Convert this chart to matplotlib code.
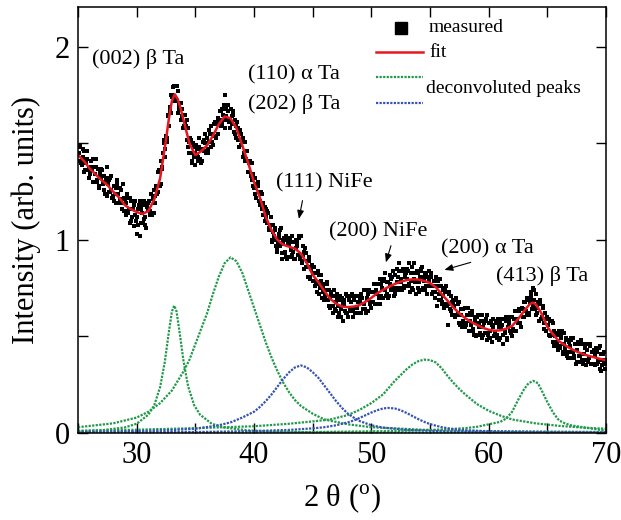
import numpy as np
import matplotlib
matplotlib.use("Agg")
import matplotlib.pyplot as plt

plt.rcParams['font.family'] = ['Liberation Serif', 'DejaVu Serif']
plt.rcParams['mathtext.fontset'] = 'custom'
plt.rcParams['mathtext.rm'] = 'Liberation Serif'

# measured XRD pattern, read at 0.1 deg steps from 25.0 to 70.0 (one row per degree)
measured_2theta = np.round(np.arange(250, 701) / 10.0, 1)
measured_int = [
    1.48, 1.41, 1.49, 1.39, 1.43, 1.46, 1.36, 1.41, 1.46, 1.37,
    1.34, 1.41, 1.37, 1.30, 1.38, 1.42, 1.31, 1.37, 1.28, 1.34,
    1.37, 1.30, 1.33, 1.24, 1.31, 1.38, 1.25, 1.32, 1.26, 1.22,
    1.23, 1.28, 1.19, 1.31, 1.24, 1.19, 1.27, 1.19, 1.29, 1.15,
    1.21, 1.13, 1.24, 1.15, 1.09, 1.20, 1.12, 1.16, 1.07, 1.20,
    1.12, 1.08, 1.18, 1.02, 1.16, 1.09, 1.20, 1.12, 1.06, 1.18,
    1.19, 1.13, 1.24, 1.13, 1.21, 1.26, 1.19, 1.28, 1.25, 1.36,
    1.28, 1.41, 1.37, 1.50, 1.43, 1.54, 1.51, 1.65, 1.67, 1.66,
    1.75, 1.79, 1.72, 1.80, 1.72, 1.77, 1.68, 1.71, 1.62, 1.68,
    1.58, 1.65, 1.59, 1.52, 1.58, 1.45, 1.52, 1.41, 1.50, 1.43,
    1.39, 1.47, 1.43, 1.53, 1.42, 1.47, 1.41, 1.52, 1.50, 1.45,
    1.53, 1.47, 1.57, 1.48, 1.55, 1.49, 1.60, 1.54, 1.61, 1.55,
    1.62, 1.67, 1.59, 1.68, 1.645, 1.75, 1.68, 1.62, 1.70, 1.61,
    1.68, 1.60, 1.65, 1.56, 1.62, 1.53, 1.58, 1.52, 1.57, 1.49,
    1.52, 1.43, 1.51, 1.42, 1.46, 1.35, 1.41, 1.41, 1.31, 1.34,
    1.27, 1.32, 1.22, 1.28, 1.25, 1.18, 1.25, 1.16, 1.19, 1.10,
    1.16, 1.09, 1.14, 1.05, 1.08, 1.00, 1.08, 1.02, 1.05, 0.97,
    0.94, 1.03, 0.97, 1.06, 0.90, 1.00, 0.93, 1.02, 0.90, 0.98,
    1.00, 0.91, 1.02, 0.94, 0.99, 0.90, 1.00, 0.97, 1.02, 0.91,
    1.02, 0.89, 0.97, 0.85, 0.93, 0.89, 0.81, 0.89, 0.80, 0.85,
    0.79, 0.86, 0.76, 0.83, 0.73, 0.82, 0.75, 0.82, 0.70, 0.76,
    0.77, 0.69, 0.77, 0.69, 0.74, 0.65, 0.71, 0.66, 0.74, 0.64,
    0.63, 0.70, 0.60, 0.71, 0.64, 0.70, 0.58, 0.67, 0.62, 0.71,
    0.60, 0.69, 0.63, 0.71, 0.60, 0.69, 0.62, 0.71, 0.65, 0.68,
    0.70, 0.62, 0.70, 0.64, 0.74, 0.64, 0.70, 0.63, 0.74, 0.68,
    0.73, 0.68, 0.77, 0.67, 0.74, 0.67, 0.77, 0.80, 0.71, 0.79,
    0.70, 0.80, 0.83, 0.72, 0.78, 0.71, 0.82, 0.74, 0.81, 0.71,
    0.82, 0.75, 0.85, 0.74, 0.88, 0.80, 0.74, 0.85, 0.76, 0.83,
    0.85, 0.76, 0.88, 0.73, 0.83, 0.75, 0.88, 0.78, 0.72, 0.84,
    0.83, 0.73, 0.84, 0.86, 0.75, 0.81, 0.74, 0.82, 0.76, 0.84,
    0.76, 0.81, 0.72, 0.79, 0.73, 0.81, 0.66, 0.76, 0.69, 0.76,
    0.68, 0.74, 0.65, 0.75, 0.67, 0.56, 0.72, 0.64, 0.71, 0.61,
    0.68, 0.60, 0.70, 0.61, 0.67, 0.57, 0.64, 0.55, 0.64, 0.57,
    0.65, 0.56, 0.61, 0.53, 0.62, 0.56, 0.63, 0.53, 0.58, 0.50,
    0.60, 0.51, 0.57, 0.52, 0.61, 0.51, 0.57, 0.52, 0.59, 0.48,
    0.57, 0.49, 0.58, 0.47, 0.55, 0.50, 0.57, 0.51, 0.59, 0.48,
    0.49, 0.56, 0.46, 0.59, 0.52, 0.58, 0.49, 0.57, 0.60, 0.52,
    0.60, 0.53, 0.59, 0.53, 0.63, 0.57, 0.64, 0.57, 0.64, 0.60,
    0.60, 0.68, 0.63, 0.70, 0.62, 0.70, 0.73, 0.64, 0.75, 0.69,
    0.72, 0.62, 0.68, 0.58, 0.67, 0.59, 0.66, 0.57, 0.62, 0.53,
    0.59, 0.51, 0.58, 0.51, 0.58, 0.47, 0.53, 0.45, 0.51, 0.45,
    0.53, 0.44, 0.51, 0.42, 0.52, 0.44, 0.48, 0.40, 0.48, 0.42,
    0.48, 0.39, 0.49, 0.40, 0.46, 0.37, 0.47, 0.40, 0.46, 0.37,
    0.46, 0.38, 0.45, 0.35, 0.43, 0.38, 0.46, 0.36, 0.42, 0.36,
    0.43, 0.35, 0.42, 0.37, 0.44, 0.33, 0.41, 0.35, 0.42, 0.36,
    0.38,
]

# the in-between measured points, 25.05 to 69.95
measured_2theta_mid = np.round(np.arange(250, 700) / 10.0 + 0.05, 2)
measured_int_mid = [
    1.45, 1.48, 1.40, 1.41, 1.47, 1.35, 1.40, 1.42, 1.36, 1.32,
    1.35, 1.38, 1.42, 1.30, 1.34, 1.38, 1.30, 1.27, 1.35, 1.32,
    1.36, 1.29, 1.26, 1.32, 1.23, 1.29, 1.31, 1.25, 1.33, 1.22,
    1.20, 1.24, 1.27, 1.29, 1.19, 1.21, 1.26, 1.16, 1.21, 1.22,
    1.19, 1.22, 1.14, 1.16, 1.22, 1.10, 1.16, 1.18, 1.13, 1.10,
    1.03, 1.16, 1.20, 1.09, 1.14, 1.18, 1.11, 1.08, 1.17, 1.16,
    1.20, 1.15, 1.14, 1.22, 1.14, 1.23, 1.28, 1.24, 1.35, 1.28,
    1.29, 1.38, 1.45, 1.52, 1.47, 1.53, 1.64, 1.59, 1.69, 1.75,
    1.74, 1.80, 1.72, 1.73, 1.80, 1.66, 1.70, 1.71, 1.64, 1.58,
    1.59, 1.60, 1.62, 1.48, 1.51, 1.53, 1.45, 1.40, 1.48, 1.45,
    1.49, 1.44, 1.41, 1.48, 1.40, 1.47, 1.51, 1.46, 1.55, 1.46,
    1.45, 1.51, 1.55, 1.59, 1.51, 1.54, 1.61, 1.53, 1.60, 1.63,
    1.62, 1.67, 1.60, 1.62, 1.70, 1.58, 1.64, 1.67, 1.62, 1.58,
    1.61, 1.64, 1.67, 1.55, 1.59, 1.61, 1.52, 1.48, 1.55, 1.51,
    1.53, 1.45, 1.41, 1.46, 1.35, 1.40, 1.41, 1.33, 1.40, 1.28,
    1.24, 1.28, 1.29, 1.30, 1.20, 1.20, 1.24, 1.13, 1.17, 1.17,
    1.12, 1.15, 1.06, 1.06, 1.12, 0.99, 1.04, 1.06, 1.00, 0.96,
    0.98, 1.01, 1.05, 0.93, 0.98, 1.01, 0.94, 0.91, 1.00, 0.98,
    1.01, 0.95, 0.92, 0.99, 0.90, 0.96, 0.99, 0.92, 1.01, 0.90,
    0.88, 0.92, 0.94, 0.96, 0.86, 0.86, 0.91, 0.81, 0.86, 0.87,
    0.83, 0.86, 0.77, 0.78, 0.84, 0.72, 0.77, 0.79, 0.73, 0.69,
    0.71, 0.74, 0.78, 0.66, 0.70, 0.73, 0.66, 0.62, 0.71, 0.68,
    0.72, 0.66, 0.62, 0.69, 0.60, 0.67, 0.69, 0.63, 0.72, 0.62,
    0.60, 0.65, 0.68, 0.72, 0.63, 0.65, 0.71, 0.62, 0.68, 0.71,
    0.68, 0.72, 0.64, 0.67, 0.74, 0.62, 0.69, 0.72, 0.67, 0.65,
    0.68, 0.73, 0.77, 0.67, 0.72, 0.77, 0.70, 0.67, 0.77, 0.75,
    0.79, 0.74, 0.71, 0.78, 0.70, 0.77, 0.80, 0.75, 0.84, 0.74,
    0.72, 0.78, 0.81, 0.84, 0.75, 0.78, 0.84, 0.75, 0.81, 0.83,
    0.80, 0.84, 0.77, 0.79, 0.86, 0.74, 0.80, 0.83, 0.78, 0.75,
    0.78, 0.81, 0.85, 0.74, 0.79, 0.83, 0.76, 0.72, 0.81, 0.79,
    0.83, 0.76, 0.73, 0.79, 0.70, 0.76, 0.79, 0.72, 0.80, 0.69,
    0.67, 0.71, 0.73, 0.76, 0.66, 0.67, 0.73, 0.63, 0.68, 0.69,
    0.66, 0.69, 0.61, 0.62, 0.68, 0.56, 0.61, 0.64, 0.58, 0.55,
    0.57, 0.61, 0.65, 0.53, 0.58, 0.61, 0.54, 0.51, 0.60, 0.57,
    0.61, 0.55, 0.51, 0.58, 0.49, 0.55, 0.58, 0.52, 0.61, 0.51,
    0.49, 0.53, 0.56, 0.59, 0.50, 0.52, 0.58, 0.49, 0.55, 0.57,
    0.54, 0.59, 0.51, 0.53, 0.60, 0.48, 0.55, 0.58, 0.53, 0.50,
    0.54, 0.59, 0.63, 0.53, 0.59, 0.63, 0.57, 0.55, 0.65, 0.64,
    0.68, 0.63, 0.61, 0.69, 0.61, 0.68, 0.71, 0.66, 0.74, 0.64,
    0.61, 0.65, 0.67, 0.69, 0.59, 0.60, 0.65, 0.54, 0.59, 0.60,
    0.56, 0.59, 0.50, 0.51, 0.57, 0.45, 0.50, 0.52, 0.47, 0.43,
    0.45, 0.49, 0.53, 0.41, 0.46, 0.49, 0.42, 0.39, 0.47, 0.45,
    0.49, 0.42, 0.39, 0.46, 0.36, 0.43, 0.46, 0.40, 0.48, 0.38,
    0.36, 0.41, 0.44, 0.46, 0.37, 0.39, 0.45, 0.36, 0.42, 0.43,
    0.40, 0.44, 0.36, 0.38, 0.45, 0.32, 0.38, 0.41, 0.36, 0.33,
]

# fitted curve
fit_2theta = [25.0, 25.5, 26.0, 26.5, 27.0, 27.5, 28.0, 28.5, 29.0, 29.5, 30.0, 30.5,
              31.0, 31.5, 32.0, 32.5, 32.75, 33.0, 33.25, 33.5, 33.75, 34.0, 34.5, 35.0,
              35.5, 36.0, 36.5, 37.0, 37.5, 38.0, 38.5, 39.0, 39.5, 40.0, 40.5, 41.0,
              41.5, 42.0, 42.5, 43.0, 43.5, 44.0, 44.5, 45.0, 45.5, 46.0, 46.5, 47.0,
              47.5, 48.0, 48.5, 49.0, 49.5, 50.0, 50.5, 51.0, 51.5, 52.0, 52.5, 53.0,
              53.5, 54.0, 54.5, 55.0, 55.5, 56.0, 56.5, 57.0, 57.5, 58.0, 58.5, 59.0,
              59.5, 60.0, 60.5, 61.0, 61.5, 62.0, 62.5, 63.0, 63.25, 63.5, 63.75, 64.0,
              64.25, 64.5, 65.0, 65.5, 66.0, 66.5, 67.0, 67.5, 68.0, 68.5, 69.0, 69.5, 70.0]
fit_int = [1.44, 1.41, 1.37, 1.34, 1.31, 1.285, 1.25, 1.22, 1.18, 1.16, 1.145, 1.135,
           1.15, 1.21, 1.32, 1.52, 1.63, 1.72, 1.755, 1.73, 1.68, 1.62, 1.50, 1.44,
           1.46, 1.49, 1.54, 1.60, 1.64, 1.63, 1.58, 1.49, 1.40, 1.30, 1.22, 1.12,
           1.05, 1.00, 0.975, 0.965, 0.955, 0.93, 0.88, 0.82, 0.78, 0.735, 0.695, 0.67,
           0.655, 0.652, 0.655, 0.663, 0.68, 0.70, 0.724, 0.742, 0.758, 0.772, 0.784, 0.792,
           0.796, 0.795, 0.788, 0.777, 0.755, 0.72, 0.685, 0.65, 0.62, 0.595, 0.575, 0.56,
           0.545, 0.535, 0.53, 0.532, 0.54, 0.555, 0.59, 0.63, 0.65, 0.667, 0.675, 0.668,
           0.645, 0.62, 0.55, 0.51, 0.475, 0.455, 0.437, 0.422, 0.41, 0.40, 0.392, 0.384, 0.377]

# deconvoluted peaks (green)
g1_x = [25, 27, 29, 30, 31, 31.5, 32, 32.4, 32.7, 33.0, 33.2, 33.4, 33.7, 34.0, 34.4,
        34.9, 35.4, 36.4, 37.4, 39.4, 41.4, 45, 50, 60, 70]
g1_y = [0.008, 0.014, 0.029, 0.048, 0.095, 0.144, 0.238, 0.369, 0.504, 0.629, 0.66, 0.629,
        0.504, 0.369, 0.238, 0.144, 0.095, 0.048, 0.029, 0.014, 0.008, 0.004, 0.002, 0.001, 0.0]
g2_x = [25, 28, 30, 31, 32, 33, 34, 34.5, 35, 35.5, 36, 36.5, 37, 37.5, 38, 38.5, 39,
        39.5, 40, 40.5, 41, 41.5, 42, 42.5, 43, 43.5, 44, 45, 46, 48, 50, 55, 60, 70]
g2_y = [0.03, 0.05, 0.08, 0.11, 0.155, 0.22, 0.32, 0.38, 0.46, 0.54, 0.62, 0.72, 0.81,
        0.88, 0.91, 0.89, 0.83, 0.74, 0.65, 0.56, 0.47, 0.39, 0.32, 0.26, 0.21, 0.17,
        0.14, 0.10, 0.07, 0.045, 0.03, 0.015, 0.01, 0.005]
g3_x = [25, 30, 35, 40, 43, 45, 46.5, 48, 49, 50, 51, 52, 52.5, 53, 53.5, 54, 54.5, 55,
        55.5, 56, 56.5, 57, 57.5, 58, 59, 60, 61, 62, 63, 64, 66, 68, 70]
g3_y = [0.012, 0.017, 0.025, 0.035, 0.048, 0.06, 0.07, 0.093, 0.12, 0.155, 0.2, 0.27,
        0.30, 0.33, 0.355, 0.372, 0.38, 0.378, 0.365, 0.335, 0.295, 0.26, 0.228, 0.2,
        0.15, 0.115, 0.09, 0.07, 0.06, 0.05, 0.037, 0.028, 0.022]
g4_x = [25, 45, 52, 56, 58, 59, 60, 61, 61.5, 62, 62.5, 63, 63.4, 63.8, 64.2, 64.6, 65,
        65.5, 66, 66.5, 67, 68, 70]
g4_y = [0.002, 0.005, 0.01, 0.018, 0.025, 0.032, 0.045, 0.058, 0.075, 0.11, 0.17, 0.225,
        0.258, 0.27, 0.258, 0.21, 0.16, 0.105, 0.065, 0.05, 0.04, 0.03, 0.012]

# deconvoluted peaks (blue)
b1_x = [25, 30, 33, 35, 37, 38, 39, 40, 40.5, 41, 41.5, 42, 42.5, 43, 43.5, 44, 44.5, 45,
        45.5, 46, 46.5, 47, 47.5, 48, 48.5, 49, 50, 51, 53, 56, 60, 70]
b1_y = [0.005, 0.01, 0.015, 0.022, 0.04, 0.055, 0.08, 0.11, 0.135, 0.165, 0.2, 0.24, 0.28,
        0.315, 0.34, 0.35, 0.34, 0.315, 0.285, 0.245, 0.205, 0.165, 0.13, 0.10, 0.08,
        0.062, 0.04, 0.028, 0.016, 0.009, 0.005, 0.002]
b2_x = [25, 35, 40, 43, 45, 46, 47, 48, 48.5, 49, 49.5, 50, 50.5, 51, 51.4, 52, 52.5, 53,
        53.5, 54, 54.5, 55, 56, 57, 58, 60, 65, 70]
b2_y = [0.002, 0.005, 0.01, 0.016, 0.024, 0.03, 0.04, 0.055, 0.065, 0.078, 0.092, 0.106,
        0.118, 0.127, 0.13, 0.127, 0.118, 0.104, 0.088, 0.072, 0.058, 0.046, 0.03, 0.02,
        0.014, 0.008, 0.004, 0.002]

green_peaks = [(g1_x, g1_y), (g2_x, g2_y), (g3_x, g3_y), (g4_x, g4_y)]
blue_peaks = [(b1_x, b1_y), (b2_x, b2_y)]

GREEN = '#1f9a48'
BLUE = '#3552b5'
RED = '#e8161e'
DOT = (0, (1, 0.6))

fig = plt.figure(figsize=(6.21, 5.2), dpi=100)
ax = fig.add_axes([78 / 621, 87 / 520, 528 / 621, 426 / 520])

for px, py in green_peaks:
    ax.plot(px, py, color=GREEN, lw=1.6, linestyle=DOT)
for px, py in blue_peaks:
    ax.plot(px, py, color=BLUE, lw=1.6, linestyle=DOT)

all_x = np.concatenate([measured_2theta, measured_2theta_mid])
all_y = np.concatenate([measured_int, measured_int_mid])
ax.plot(all_x, all_y, 's', color='black', ms=2.6, mew=0)
ax.plot(fit_2theta, fit_int, color=RED, lw=1.8)

ax.set_xlim(25, 70)
ax.set_ylim(0, 2.207)
ax.set_xticks([30, 40, 50, 60, 70])
ax.set_xticks([25, 35, 45, 55, 65], minor=True)
ax.set_yticks([0, 1, 2])
ax.set_yticks([0.5, 1.5], minor=True)
ax.tick_params(which='both', direction='in', top=True, right=True, length=7, width=1,
               labelsize=22, pad=6)
for s in ax.spines.values():
    s.set_linewidth(1.1)

ax.set_xlabel('2 θ ($^{\\rm o}$)', fontsize=22, labelpad=8)
ax.set_ylabel('Intensity (arb. units)', fontsize=22, labelpad=10)

# peak labels
lab = dict(fontsize=16, va='center', ha='left')
ax.text(26.2, 1.94, '(002) β Ta', **lab)
ax.text(39.5, 1.855, '(110) α Ta', **lab)
ax.text(39.5, 1.705, '(202) β Ta', **lab)
ax.text(41.9, 1.295, '(111) NiFe', **lab)
ax.text(46.4, 1.04, '(200) NiFe', **lab)
ax.text(55.9, 0.956, '(200) α Ta', **lab)
ax.text(60.6, 0.813, '(413) β Ta', **lab)

arr = dict(arrowstyle='-|>,head_length=0.5,head_width=0.2', color='black', lw=0.8)
ax.annotate('', xy=(43.78, 1.095), xytext=(44.18, 1.218), arrowprops=arr)
ax.annotate('', xy=(51.17, 0.87), xytext=(51.74, 0.984), arrowprops=arr)
ax.annotate('', xy=(56.0, 0.841), xytext=(58.7, 0.888), arrowprops=arr)

# legend drawn by hand
tr = ax.transAxes
ax.plot([0.611], [0.951], 's', color='black', ms=9, transform=tr)
ax.text(0.665, 0.953, 'measured', fontsize=14, va='center', transform=tr)
ax.plot([0.565, 0.653], [0.894, 0.894], color=RED, lw=1.8, transform=tr)
ax.text(0.665, 0.894, 'fit', fontsize=14, va='center', transform=tr)
ax.plot([0.565, 0.653], [0.836, 0.836], color=GREEN, lw=1.6, linestyle=DOT, transform=tr)
ax.plot([0.565, 0.653], [0.775, 0.775], color=BLUE, lw=1.6, linestyle=DOT, transform=tr)
ax.text(0.659, 0.808, 'deconvoluted peaks', fontsize=14, va='center', transform=tr)

fig.savefig('out.png', dpi=100)
